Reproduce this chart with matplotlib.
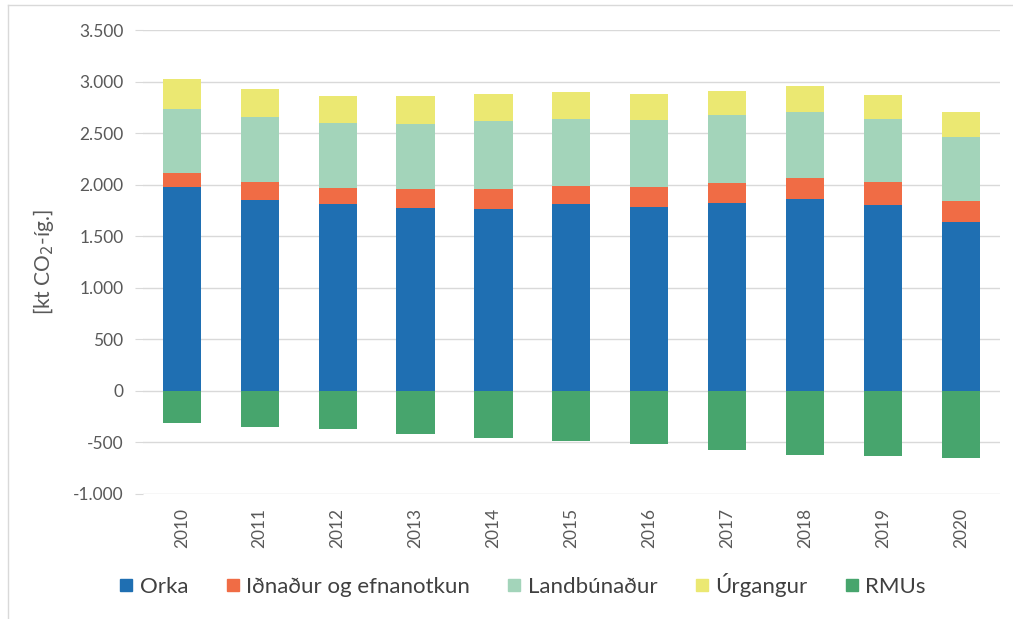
import matplotlib.pyplot as plt
import numpy as np
from matplotlib.lines import Line2D

# Gögn (kt CO2-íg.)
ar = ['2010', '2011', '2012', '2013', '2014', '2015', '2016', '2017', '2018', '2019', '2020']
orka = [1974, 1851, 1809, 1776, 1763, 1815, 1786, 1825, 1861, 1806, 1634]
idnadur = [139, 175, 162, 185, 198, 175, 191, 187, 207, 220, 204]
landbunadur = [625, 627, 627, 624, 660, 650, 654, 661, 637, 614, 625]
urgangur = [291, 279, 259, 272, 259, 263, 252, 239, 249, 230, 242]
rmus = [-315, -350, -372, -422, -458, -488, -520, -575, -620, -630, -650]

liti = ['#1f6fb2', '#f06c45', '#a3d4ba', '#ebe872', '#47a56d']
nofn = ['Orka', 'Iðnaður og efnanotkun', 'Landbúnaður', 'Úrgangur', 'RMUs']

plt.rcParams['font.family'] = ['Lato', 'DejaVu Sans']

fig = plt.figure(figsize=(10.13, 6.19), dpi=100)
ax = fig.add_axes([0.141, 0.202, 0.846, 0.7495])

x = np.arange(len(ar))
w = 0.49
botn = np.zeros(len(ar))
for gildi, lit, nafn in zip([orka, idnadur, landbunadur, urgangur], liti[:4], nofn[:4]):
    ax.bar(x, gildi, w, bottom=botn, color=lit, label=nafn, zorder=3)
    botn = botn + np.array(gildi)
ax.bar(x, rmus, w, color=liti[4], label=nofn[4], zorder=3)

ax.set_xlim(-0.5, len(ar) - 0.5)
ax.set_ylim(-1000, 3500)
ax.set_yticks(range(-1000, 3501, 500))
ax.set_yticklabels([f'{v:,}'.replace(',', '.') for v in range(-1000, 3501, 500)])
ax.set_xticks(x)
ax.set_xticklabels(ar, rotation=90)
ax.grid(axis='y', color='#d9d9d9', linewidth=1, zorder=0)
for s in ax.spines.values():
    s.set_visible(False)
ax.tick_params(axis='y', length=6, color='#d9d9d9', labelsize=12.5, labelcolor='#595959', pad=8)
ax.tick_params(axis='x', length=0, labelsize=12.5, labelcolor='#595959', pad=10)
ax.set_ylabel('[kt CO$_2$-íg.]', fontsize=15, color='#595959', labelpad=12)

handles = [Line2D([], [], marker='s', linestyle='None', markersize=9, color=c) for c in liti]
fig.legend(handles, nofn, loc='center', bbox_to_anchor=(0.516, 0.055), ncol=5, frameon=False,
           fontsize=16, labelcolor='#404040', handlelength=0.6, handletextpad=0.3, columnspacing=1.7)

# rammi efst og vinstra megin
fig.add_artist(Line2D([8 / 1013, 8 / 1013], [0, 1 - 5 / 619], transform=fig.transFigure, color='#d9d9d9', lw=1))
fig.add_artist(Line2D([8 / 1013, 1], [1 - 5 / 619, 1 - 5 / 619], transform=fig.transFigure, color='#d9d9d9', lw=1))

fig.savefig('out.png', dpi=100)
